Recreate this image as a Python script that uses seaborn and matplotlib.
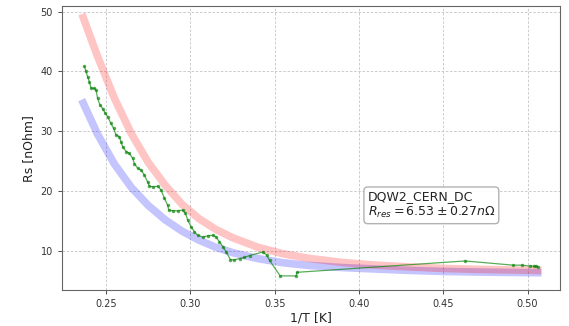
import matplotlib
matplotlib.use("Agg")
import matplotlib.pyplot as plt
import seaborn as sns
import pandas as pd

# Measured surface resistance (green)
meas_x = [0.2372, 0.2381, 0.2391, 0.2401, 0.2411, 0.2430, 0.2441, 0.2450, 0.2464, 0.2480,
          0.2496, 0.2510, 0.2529, 0.2545, 0.2559, 0.2579, 0.2589, 0.2599, 0.2619, 0.2638,
          0.2658, 0.2668, 0.2688, 0.2708, 0.2727, 0.2747, 0.2757, 0.2777, 0.2806, 0.2826,
          0.2846, 0.2866, 0.2872, 0.2896, 0.2925, 0.2955, 0.2971, 0.2985, 0.3005, 0.3024,
          0.3044, 0.3074, 0.3103, 0.3133, 0.3153, 0.3173, 0.3193, 0.3213, 0.3238, 0.3262,
          0.3292, 0.3321, 0.3351, 0.3430, 0.3452, 0.3470, 0.3533, 0.3628, 0.3632, 0.4630,
          0.4914, 0.4965, 0.5013, 0.5039, 0.5052, 0.5062]
meas_y = [40.9, 40.0, 39.1, 38.3, 37.2, 37.2, 36.9, 35.5, 34.4, 33.8,
          33.0, 32.4, 31.3, 30.5, 29.4, 29.1, 28.2, 27.4, 26.6, 26.3,
          25.5, 24.6, 23.8, 23.5, 22.7, 21.5, 20.8, 20.7, 20.8, 20.2,
          18.8, 17.6, 16.8, 16.7, 16.7, 16.8, 16.3, 15.1, 14.0, 13.2,
          12.6, 12.3, 12.5, 12.6, 12.3, 11.5, 10.7, 9.8, 8.5, 8.5,
          8.7, 8.9, 9.2, 9.8, 9.3, 8.4, 5.8, 5.8, 6.4, 8.3,
          7.6, 7.6, 7.45, 7.45, 7.45, 7.3]

# Fit curves
fit_x = [0.2365, 0.245, 0.255, 0.265, 0.275, 0.285, 0.295, 0.305, 0.315, 0.325,
         0.34, 0.355, 0.37, 0.39, 0.41, 0.43, 0.45, 0.47, 0.49, 0.506]
red_y = [49.0, 42.5, 35.5, 29.6, 24.8, 21.0, 17.8, 15.4, 13.6, 12.2,
         10.6, 9.5, 8.75, 8.05, 7.6, 7.3, 7.05, 6.9, 6.8, 6.72]
blue_y = [34.7, 29.5, 24.5, 20.6, 17.6, 15.2, 13.3, 11.8, 10.6, 9.7,
          8.7, 8.0, 7.55, 7.2, 6.95, 6.72, 6.55, 6.45, 6.38, 6.33]

label_text = "DQW2_CERN_DC\n$R_{res} = 6.53 \\pm 0.27 n\\Omega$"

sns.set_style("ticks")
plt.rcParams["font.family"] = ["DejaVu Sans"]

fig = plt.figure(figsize=(5.69, 3.26), dpi=100)
ax = fig.add_axes([0.109, 0.110, 0.875, 0.8716])

fit_df = pd.DataFrame({"x": fit_x, "red": red_y, "blue": blue_y})
meas_df = pd.DataFrame({"x": meas_x, "y": meas_y})

sns.lineplot(data=fit_df, x="x", y="blue", ax=ax, color="blue", alpha=0.23,
             linewidth=5.5, sort=False, estimator=None, solid_capstyle="projecting")
sns.lineplot(data=fit_df, x="x", y="red", ax=ax, color="red", alpha=0.23,
             linewidth=5.5, sort=False, estimator=None, solid_capstyle="projecting")
sns.lineplot(data=meas_df, x="x", y="y", ax=ax, color="green", alpha=0.65,
             linewidth=0.9, marker="o", markersize=2.5, markeredgewidth=0,
             sort=False, estimator=None)

ax.set_xlim(0.2239, 0.5192)
ax.set_ylim(3.42, 50.95)
ax.set_xticks([0.25, 0.30, 0.35, 0.40, 0.45, 0.50])
ax.set_xticklabels(["0.25", "0.30", "0.35", "0.40", "0.45", "0.50"])
ax.set_yticks([10, 20, 30, 40, 50])
ax.grid(True, linestyle=(0, (3, 2)), color="#c4c4c4", linewidth=0.6)
ax.tick_params(labelsize=7, colors="#333333", length=3, width=0.6)
for s in ax.spines.values():
    s.set_color("#666666")
    s.set_linewidth(0.8)
ax.set_xlabel("1/T [K]", fontsize=9, color="#222222", labelpad=2)
ax.set_ylabel("Rs [nOhm]", fontsize=9, color="#222222", labelpad=4)

ax.text(0.4052, 17.7, label_text, fontsize=9, color="#222222",
        ha="left", va="center",
        bbox=dict(boxstyle="round,pad=0.3", facecolor="white", edgecolor="#aaaaaa", alpha=0.9))

fig.savefig("out.png", dpi=100)
